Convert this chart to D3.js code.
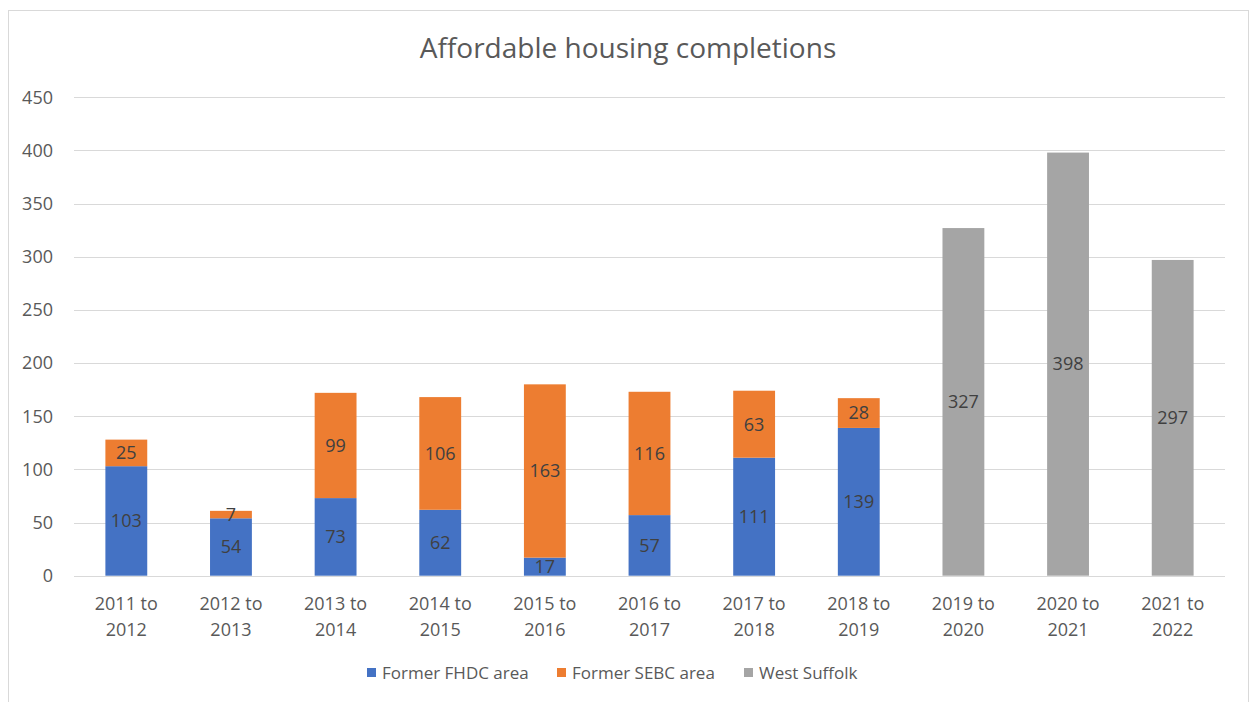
<!DOCTYPE html>
<html><head><meta charset="utf-8">
<script src="https://cdn.jsdelivr.net/npm/d3@7"></script>
<style>body{margin:0;background:#fff;} svg{display:block;font-family:"Open Sans",sans-serif;}</style>
</head><body>
<svg id="c" width="1255" height="702"></svg>
<script>
const categories = [["2011 to","2012"],["2012 to","2013"],["2013 to","2014"],["2014 to","2015"],["2015 to","2016"],["2016 to","2017"],["2017 to","2018"],["2018 to","2019"],["2019 to","2020"],["2020 to","2021"],["2021 to","2022"]];
const fhdc = [103,54,73,62,17,57,111,139,0,0,0];
const sebc = [25,7,99,106,163,116,63,28,0,0,0];
const westSuffolk = [0,0,0,0,0,0,0,0,327,398,297];
const seriesNames = ["Former FHDC area","Former SEBC area","West Suffolk"];
const yTicks = [0,50,100,150,200,250,300,350,400,450];
const colors = ["#4472C4","#ED7D31","#A5A5A5"];

const svg = d3.select("#c");
svg.append("rect").attr("x",8.5).attr("y",10.5).attr("width",1240).attr("height",700).attr("fill","#fff").attr("stroke","#D9D9D9").attr("stroke-width",1);

const x = d3.scaleBand().domain(d3.range(categories.length)).range([74,1225]).paddingInner(0.6).paddingOuter(0.3);
const y = d3.scaleLinear().domain([0,450]).range([575.7,97.3]);

svg.append("text").attr("x",628).attr("y",58).attr("text-anchor","middle").attr("font-size",28).attr("fill","#595959").text("Affordable housing completions");

const grid = svg.append("g");
yTicks.forEach(t=>{
  grid.append("line").attr("x1",74).attr("x2",1225).attr("y1",Math.round(y(t))+0.5).attr("y2",Math.round(y(t))+0.5).attr("stroke","#D9D9D9").attr("stroke-width",1);
  svg.append("text").attr("x",53).attr("y",y(t)).attr("dy","0.35em").attr("text-anchor","end").attr("font-size",18).attr("fill","#595959").text(t);
});

const series = [fhdc, sebc, westSuffolk];
const stack = categories.map((c,i)=>{let b=0; return series.map((s,k)=>{const v=s[i]; const r={k,i,v,y0:b,y1:b+v}; b+=v; return r;});});
const g = svg.append("g");
stack.flat().filter(d=>d.v>0).forEach(d=>{
  g.append("rect").attr("x",x(d.i)).attr("width",x.bandwidth()).attr("y",y(d.y1)).attr("height",y(d.y0)-y(d.y1)).attr("fill",colors[d.k]);
  g.append("text").attr("x",x(d.i)+x.bandwidth()/2).attr("y",(y(d.y0)+y(d.y1))/2).attr("dy","0.35em").attr("text-anchor","middle").attr("font-size",18).attr("fill","#404040").text(d.v);
});

categories.forEach((c,i)=>{
  const t = svg.append("text").attr("text-anchor","middle").attr("font-size",18).attr("fill","#595959");
  t.append("tspan").attr("x",x(i)+x.bandwidth()/2).attr("y",610).text(c[0]);
  t.append("tspan").attr("x",x(i)+x.bandwidth()/2).attr("y",636).text(c[1]);
});

const legX = [367,557,744];
seriesNames.forEach((n,k)=>{
  svg.append("rect").attr("x",legX[k]).attr("y",668).attr("width",9).attr("height",9).attr("fill",colors[k]);
  svg.append("text").attr("x",legX[k]+15).attr("y",673).attr("dy","0.35em").attr("font-size",17).attr("fill","#595959").text(n);
});
</script>
</body></html>
